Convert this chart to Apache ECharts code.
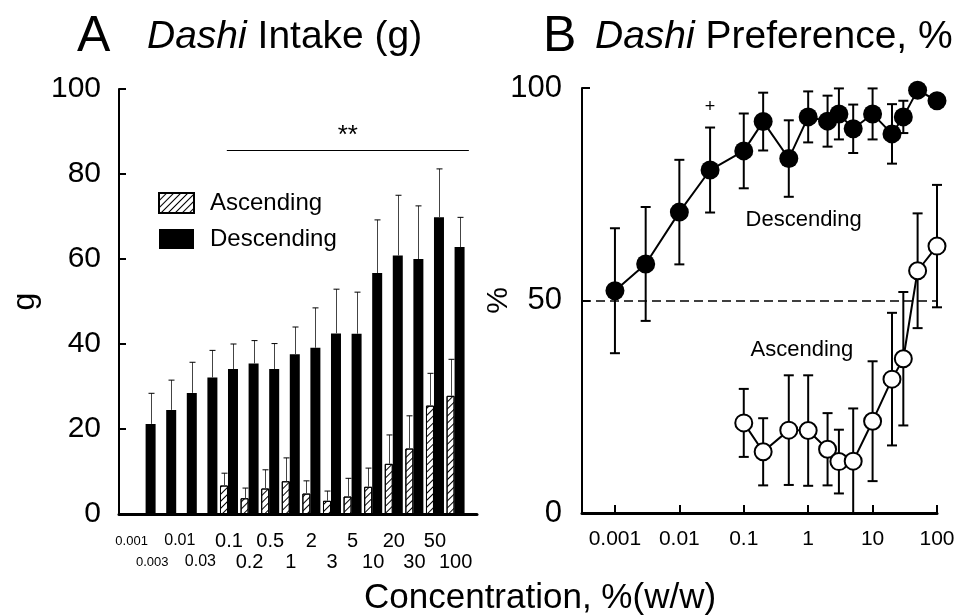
<!DOCTYPE html>
<html lang="en">
<head>
  <meta charset="UTF-8" />
  <title>Dashi intake and preference</title>
  <script src="https://cdn.jsdelivr.net/npm/echarts@6/dist/echarts.min.js"></script>
  <style>
    body, html { margin: 0; padding: 0; width: 100%; height: 100%; overflow: hidden; background: #fff; }
    #chart { width: 960px; height: 616px; }
  </style>
</head>
<body>
  <div id="chart"></div>
<script>
  // concentrations, %(w/w)
  var concLabels = ['0.001', '0.003', '0.01', '0.03', '0.1', '0.2', '0.5', '1', '2', '3', '5', '10', '20', '30', '50', '100'];
  var concValues = [0.001, 0.003, 0.01, 0.03, 0.1, 0.2, 0.5, 1, 2, 3, 5, 10, 20, 30, 50, 100];

  // A: intake (g), mean and SEM
  var descIntake = [21.2, 24.5, 28.5, 32.1, 34.1, 35.4, 34.1, 37.6, 39.1, 42.5, 42.4, 56.7, 60.8, 60.0, 69.8, 62.8];
  var descIntakeSem = [7.2, 7.0, 7.2, 6.4, 5.9, 5.4, 6.0, 6.4, 9.4, 10.4, 9.8, 12.5, 14.2, 12.5, 11.4, 7.0];
  var ascIntake = [null, null, null, null, 6.7, 3.7, 6.0, 7.7, 4.8, 3.1, 4.1, 6.4, 11.8, 15.4, 25.5, 27.8];
  var ascIntakeSem = [null, null, null, null, 2.9, 2.4, 4.4, 5.5, 3.0, 2.3, 4.3, 4.4, 6.8, 7.7, 7.6, 8.6];

  // B: preference (%), mean and SEM
  var descPref = [52.3, 58.6, 70.8, 80.7, 85.2, 92.1, 83.4, 93.2, 92.2, 93.9, 90.4, 93.9, 89.2, 93.2, 99.5, 97.0];
  var descPrefSem = [14.7, 13.4, 12.3, 10.0, 8.8, 6.8, 9.0, 6.0, 6.0, 6.0, 5.7, 6.0, 7.0, 3.8, 0, 0];
  var ascPref = [null, null, null, null, 21.2, 14.4, 19.5, 19.4, 15.0, 12.1, 12.2, 21.6, 31.5, 36.3, 57.0, 62.8];
  var ascPrefSem = [null, null, null, null, 8.0, 7.9, 12.9, 13.0, 8.5, 7.5, 12.4, 14.1, 15.6, 15.7, 13.5, 14.4];

  var prefTicks = [0.001, 0.01, 0.1, 1, 10, 100];
  var prefTickLabels = ['0.001', '0.01', '0.1', '1', '10', '100'];

  var FONT = '"Liberation Sans", Arial, sans-serif';

  function pairs(xs, ys) {
    var out = [];
    for (var i = 0; i < ys.length; i++) {
      if (ys[i] != null) out.push([xs[i], ys[i]]);
    }
    return out;
  }
  function triples(xs, ys, es) {
    var out = [];
    for (var i = 0; i < ys.length; i++) {
      if (ys[i] != null && es[i]) out.push([xs[i], ys[i], es[i]]);
    }
    return out;
  }
  var idx = concLabels.map(function (d, i) { return i; });
  // two label rows; the two smallest labels sit on their own axes so they can be nudged left
  var idxTop = idx.filter(function (i) { return i % 2 === 0 && i > 1; });
  var idxBottom = idx.filter(function (i) { return i % 2 === 1 && i > 1; });

  // upward-only error bar, shifted to sit on its bar
  function errUp(offset) {
    return function (params, api) {
      var x = api.value(0), m = api.value(1), e = api.value(2);
      var p0 = api.coord([x, m]);
      var p1 = api.coord([x, m + e]);
      var cx = Math.round(p0[0] + offset) + 0.5;
      return {
        type: 'group',
        children: [
          { type: 'line', shape: { x1: cx, y1: p0[1], x2: cx, y2: p1[1] }, style: { stroke: '#444', lineWidth: 1 } },
          { type: 'line', shape: { x1: cx - 3, y1: p1[1], x2: cx + 3, y2: p1[1] }, style: { stroke: '#000', lineWidth: 1 } }
        ]
      };
    };
  }
  function errBoth(params, api) {
    var x = api.value(0), m = api.value(1), e = api.value(2);
    var lo = api.coord([x, Math.max(m - e, 0)]);
    var hi = api.coord([x, m + e]);
    var cx = lo[0];
    return {
      type: 'group',
      children: [
        { type: 'line', shape: { x1: cx, y1: lo[1], x2: cx, y2: hi[1] }, style: { stroke: '#000', lineWidth: 2 } },
        { type: 'line', shape: { x1: cx - 5, y1: lo[1], x2: cx + 5, y2: lo[1] }, style: { stroke: '#000', lineWidth: 2 } },
        { type: 'line', shape: { x1: cx - 5, y1: hi[1], x2: cx + 5, y2: hi[1] }, style: { stroke: '#000', lineWidth: 2 } }
      ]
    };
  }

  function tok(size, pad) {
    return { fontSize: size, lineHeight: 22, color: '#000', fontFamily: FONT, padding: [0, pad, 0, 0] };
  }
  var concRich = { xs: tok(13, 30), sm: tok(16, 16), lg: tok(20, 0) };
  function concFormatter(v) {
    var i = Math.round(v);
    var s = i < 2 ? 'xs' : (i < 4 ? 'sm' : 'lg');
    return '{' + s + '|' + concLabels[i] + '}';
  }
  function concAxis(values, margin, showLine) {
    return {
      type: 'value', gridIndex: 0, min: -1.34, max: 16.04, position: 'bottom',
      splitLine: { show: false },
      axisLine: { show: showLine, onZero: false, lineStyle: { color: '#000', width: 3 } },
      axisTick: { show: false },
      axisLabel: {
        customValues: values, margin: margin,
        showMinLabel: true, showMaxLabel: true, hideOverlap: false,
        formatter: concFormatter, rich: concRich
      }
    };
  }
  function titleRich(w) {
    return {
      a: { fontSize: 50, lineHeight: 50, width: w, color: '#000', fontWeight: 'normal', fontFamily: FONT },
      i: { fontSize: 39, lineHeight: 50, fontStyle: 'italic', fontWeight: 'normal', color: '#000', fontFamily: FONT },
      n: { fontSize: 39, lineHeight: 50, fontWeight: 'normal', color: '#000', fontFamily: FONT }
    };
  }

  var chart = echarts.init(document.getElementById('chart'));
  var option = {
    backgroundColor: '#fff',
    animation: false,
    textStyle: { fontFamily: FONT, color: '#000' },
    title: [{
      left: 77, top: 12, padding: 0,
      text: '{a|A}{i|Dashi}{n| Intake (g)}',
      textStyle: { fontWeight: 'normal', rich: titleRich(70) }
    }, {
      left: 543, top: 12, padding: 0,
      text: '{a|B}{i|Dashi}{n| Preference, %}',
      textStyle: { fontWeight: 'normal', rich: titleRich(52) }
    }],
    legend: {
      orient: 'vertical', left: 158, top: 191, padding: 0,
      itemWidth: 35, itemHeight: 20, itemGap: 12,
      icon: 'rect',
      data: ['Ascending', 'Descending'],
      textStyle: { fontSize: 24, color: '#000', fontFamily: FONT, padding: [0, 0, 0, 11] }
    },
    graphic: [{
      type: 'text', left: 364, top: 581,
      style: { text: 'Concentration, %(w/w)', font: '35px ' + FONT, fill: '#000' }
    }],
    grid: [
      { left: 119, top: 89, width: 358, height: 425, containLabel: false, outerBoundsMode: 'none' },
      { left: 582, top: 88, width: 355, height: 425, containLabel: false, outerBoundsMode: 'none' }
    ],
    xAxis: [
      concAxis(idxTop, 16, true),
      {
        type: 'log', gridIndex: 1, logBase: 10, min: 0.000308, max: 100,
        splitLine: { show: false },
        axisLine: { onZero: false, lineStyle: { color: '#000', width: 3 } },
        axisTick: { inside: true, length: 8, lineStyle: { color: '#000', width: 2 }, customValues: prefTicks },
        axisLabel: {
          customValues: prefTicks, margin: 16, fontSize: 21, color: '#000',
          showMinLabel: true, showMaxLabel: true,
          formatter: function (v) {
            return prefTickLabels[Math.round(Math.log10(v)) + 3];
          }
        }
      },
      concAxis(idxBottom, 37, false),
      concAxis([0], 16, false),
      concAxis([1], 37, false)
    ],
    yAxis: [{
      type: 'value', gridIndex: 0, min: 0, max: 100, interval: 20,
      name: 'g', nameLocation: 'middle', nameRotate: 90, nameGap: 78,
      nameTextStyle: { fontSize: 32, color: '#000' },
      splitLine: { show: false },
      axisLine: { show: true, onZero: false, lineStyle: { color: '#000', width: 2 } },
      axisTick: { show: true, inside: true, length: 7, lineStyle: { color: '#000', width: 2 } },
      axisLabel: { fontSize: 30, color: '#000', margin: 18, showMinLabel: true }
    }, {
      type: 'value', gridIndex: 1, min: 0, max: 100, interval: 50,
      name: '%', nameLocation: 'middle', nameRotate: 90, nameGap: 68, nameMoveOverlap: false,
      nameTextStyle: { fontSize: 30, color: '#000' },
      splitLine: { show: false },
      axisLine: { show: true, onZero: false, lineStyle: { color: '#000', width: 2 } },
      axisTick: { show: true, inside: true, length: 8, lineStyle: { color: '#000', width: 2 } },
      axisLabel: { fontSize: 31, color: '#000', margin: 20, showMinLabel: true }
    }],
    series: [{
      name: 'Ascending', type: 'bar', xAxisIndex: 0, yAxisIndex: 0,
      barWidth: 8, barGap: '0%',
      itemStyle: {
        color: '#fff', borderColor: '#000', borderWidth: 1,
        decal: { symbol: 'rect', symbolSize: 1, color: '#000', dashArrayX: [1, 0], dashArrayY: [1, 4], rotation: -Math.PI / 4 }
      },
      data: pairs(idx, ascIntake)
    }, {
      name: 'Descending', type: 'bar', xAxisIndex: 0, yAxisIndex: 0,
      barWidth: 10, barGap: '0%',
      itemStyle: { color: '#000' },
      data: pairs(idx, descIntake),
      markLine: {
        silent: true, symbol: 'none',
        lineStyle: { color: '#000', width: 1, type: 'solid' },
        label: { show: true, position: 'middle', formatter: '**', fontSize: 26, color: '#000', distance: 2 },
        data: [[{ coord: [3.7, 85.5] }, { coord: [15.45, 85.5] }]]
      }
    }, {
      type: 'custom', xAxisIndex: 0, yAxisIndex: 0, z: 3,
      renderItem: errUp(-5),
      data: triples(idx, ascIntake, ascIntakeSem)
    }, {
      type: 'custom', xAxisIndex: 0, yAxisIndex: 0, z: 3,
      renderItem: errUp(4),
      data: triples(idx, descIntake, descIntakeSem)
    }, {
      type: 'custom', xAxisIndex: 1, yAxisIndex: 1, z: 1,
      renderItem: errBoth,
      data: triples(concValues, descPref, descPrefSem)
    }, {
      type: 'custom', xAxisIndex: 1, yAxisIndex: 1, z: 1,
      renderItem: errBoth,
      data: triples(concValues, ascPref, ascPrefSem)
    }, {
      name: 'DescPref', type: 'line', xAxisIndex: 1, yAxisIndex: 1, z: 4,
      symbol: 'circle', symbolSize: 19,
      itemStyle: { color: '#000' },
      lineStyle: { color: '#000', width: 2 },
      data: pairs(concValues, descPref),
      markPoint: {
        silent: true, symbol: 'circle', symbolSize: 1,
        itemStyle: { color: 'rgba(0,0,0,0)' },
        label: { show: true, color: '#000', fontSize: 22, fontFamily: FONT },
        data: [
          { coord: [0.03, 95.5], label: { formatter: '+', fontSize: 18 } },
          { coord: [0.85, 68.9], label: { formatter: 'Descending' } }
        ]
      }
    }, {
      name: 'AscPref', type: 'line', xAxisIndex: 1, yAxisIndex: 1, z: 4,
      symbol: 'circle', symbolSize: 17,
      itemStyle: { color: '#fff', borderColor: '#000', borderWidth: 2 },
      lineStyle: { color: '#000', width: 2 },
      data: pairs(concValues, ascPref),
      markLine: {
        silent: true, symbol: 'none',
        lineStyle: { color: '#000', width: 1.5, type: [9, 5] },
        label: { show: false },
        data: [{ yAxis: 50 }]
      },
      markPoint: {
        silent: true, symbol: 'circle', symbolSize: 1,
        itemStyle: { color: 'rgba(0,0,0,0)' },
        label: { show: true, color: '#000', fontSize: 22, fontFamily: FONT },
        data: [{ coord: [0.8, 38.4], label: { formatter: 'Ascending' } }]
      }
    }]
  };
  chart.setOption(option);
</script>
</body>
</html>
